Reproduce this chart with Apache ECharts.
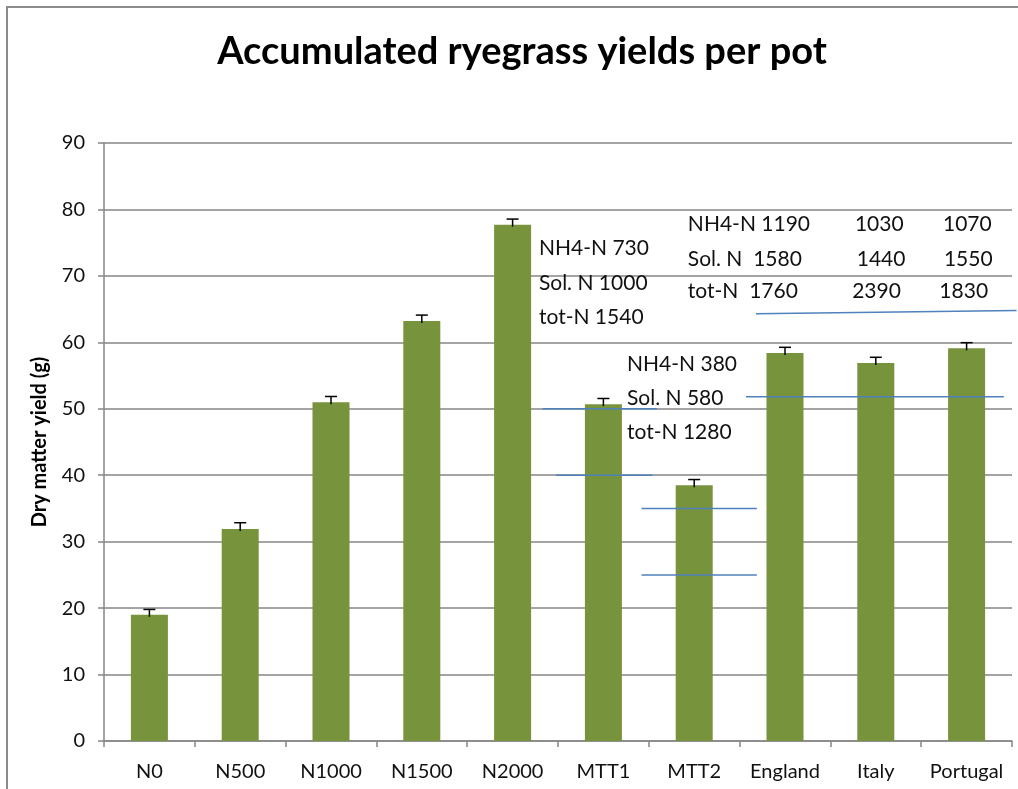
<!DOCTYPE html>
<html>
<head>
<meta charset="utf-8">
<script src="https://cdn.jsdelivr.net/npm/echarts@6/dist/echarts.min.js"></script>
<style>
  html, body { margin: 0; padding: 0; background: #fff; }
  #chart { width: 1018px; height: 789px; }
</style>
</head>
<body>
<div id="chart"></div>
<script>
// bar data
const categories = ['N0', 'N500', 'N1000', 'N1500', 'N2000', 'MTT1', 'MTT2', 'England', 'Italy', 'Portugal'];
const yields = [19.0, 31.9, 51.0, 63.2, 77.7, 50.7, 38.5, 58.4, 56.9, 59.1];
const yieldErr = [0.8, 0.95, 0.85, 0.9, 0.85, 0.85, 0.85, 0.85, 0.85, 0.85];
const yTicks = [0, 10, 20, 30, 40, 50, 60, 70, 80, 90];

// blue reference strokes (x in category units 0..10, y in g)
const refX1 = [4.83, 4.98, 5.92, 5.92, 7.07, 7.18];
const refY1 = [50, 40, 35, 25, 51.8, 64.3];
const refX2 = [6.09, 6.04, 7.19, 7.19, 9.91, 10.05];
const refY2 = [50, 40, 35, 25, 51.8, 64.8];

// N content notes
const noteText = ['NH4-N 730', 'Sol. N 1000', 'tot-N 1540',
  'NH4-N 380', 'Sol. N 580', 'tot-N 1280',
  'NH4-N 1190', 'Sol. N  1580', 'tot-N  1760',
  '1030', '1440', '2390',
  '1070', '1550', '1830'];
const noteX = [4.79, 4.79, 4.79, 5.76, 5.76, 5.76, 6.43, 6.43, 6.43, 8.27, 8.29, 8.24, 9.24, 9.25, 9.20];
const noteY = [74.2, 68.9, 63.8, 56.7, 51.6, 46.5, 77.8, 72.5, 67.7, 77.8, 72.5, 67.7, 77.8, 72.5, 67.7];

const FONT = 'Lato';
const chart = echarts.init(document.getElementById('chart'));

chart.setOption({
  animation: false,
  backgroundColor: '#fff',
  title: {
    text: 'Accumulated ryegrass yields per pot',
    left: 517, top: 28, textAlign: 'center',
    textStyle: { fontFamily: FONT, fontSize: 38, fontWeight: 'bold', color: '#000' }
  },
  graphic: [{
    type: 'rect', silent: true,
    shape: { x: 7, y: 7, width: 1100, height: 900 },
    style: { fill: 'none', stroke: '#8c8c8c', lineWidth: 2 }
  }],
  grid: { left: 104, right: 6, top: 143, bottom: 48 },
  xAxis: [{
    type: 'category',
    data: categories,
    axisLine: { lineStyle: { color: '#868686', width: 1.5 } },
    axisTick: { show: true, interval: 0, length: 6, lineStyle: { color: '#868686', width: 1.5 } },
    axisLabel: { interval: 0, fontFamily: FONT, fontSize: 20, color: '#111', margin: 21 }
  }, {
    type: 'value', min: 0, max: 10, show: false
  }],
  yAxis: {
    type: 'value', min: yTicks[0], max: yTicks[yTicks.length - 1], interval: 10,
    name: 'Dry matter yield (g)',
    nameLocation: 'middle', nameGap: 54,
    nameTextStyle: { fontFamily: FONT, fontSize: 20, fontWeight: 'bold', color: '#000' },
    axisLine: { show: true, lineStyle: { color: '#868686', width: 1.5 } },
    axisTick: { show: true, length: 6, lineStyle: { color: '#868686', width: 1.5 } },
    splitLine: { lineStyle: { color: '#868686', width: 1.5 } },
    axisLabel: { fontFamily: FONT, fontSize: 20, color: '#111', margin: 19 }
  },
  series: [{
    type: 'bar',
    data: yields,
    barWidth: 37,
    itemStyle: { color: '#77933C' }
  }, {
    // error bars
    type: 'custom',
    data: yields.map((v, i) => [i, v, yieldErr[i]]),
    renderItem: function (params, api) {
      const top = api.coord([api.value(0), api.value(1) + api.value(2)]);
      const bot = api.coord([api.value(0), api.value(1)]);
      const st = { stroke: '#000', lineWidth: 1.5 };
      return {
        type: 'group',
        children: [
          { type: 'line', shape: { x1: top[0], y1: top[1], x2: top[0], y2: bot[1] + 2 }, style: st },
          { type: 'line', shape: { x1: top[0] - 6, y1: top[1], x2: top[0] + 6, y2: top[1] }, style: st }
        ]
      };
    },
    z: 5
  }, {
    // blue reference strokes
    type: 'custom',
    xAxisIndex: 1,
    clip: false,
    data: refX1.map((x, i) => [x, refY1[i], refX2[i], refY2[i]]),
    renderItem: function (params, api) {
      const a = api.coord([api.value(0), api.value(1)]);
      const b = api.coord([api.value(2), api.value(3)]);
      return {
        type: 'line',
        shape: { x1: a[0], y1: a[1], x2: b[0], y2: b[1] },
        style: { stroke: '#4F81BD', lineWidth: 1.5 }
      };
    },
    z: 6
  }, {
    // notes
    type: 'custom',
    xAxisIndex: 1,
    clip: false,
    data: noteX.map((x, i) => [x, noteY[i], i]),
    renderItem: function (params, api) {
      const p = api.coord([api.value(0), api.value(1)]);
      return {
        type: 'text',
        x: p[0], y: p[1],
        style: {
          text: noteText[api.value(2)],
          fontFamily: FONT, fontSize: 21, fill: '#111',
          align: 'left', verticalAlign: 'middle'
        }
      };
    },
    z: 7
  }]
});
</script>
</body>
</html>
